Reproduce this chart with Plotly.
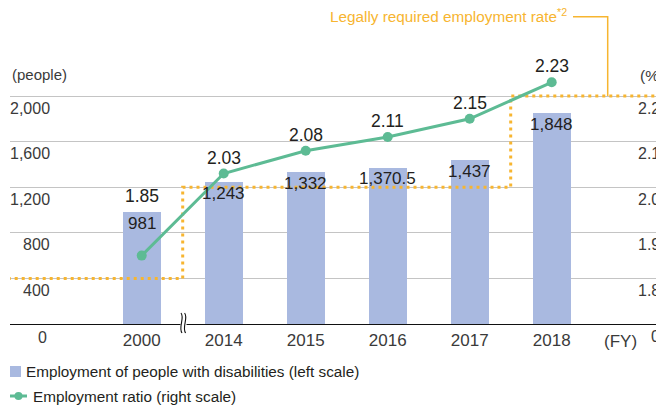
import plotly.graph_objects as go

# ---- data -------------------------------------------------------------
years = ["2000", "2014", "2015", "2016", "2017", "2018"]
employees = [981, 1243, 1332, 1370.5, 1437, 1848]           # people (left scale)
ratio = [1.85, 2.03, 2.08, 2.11, 2.15, 2.23]                # % (right scale)
required_rate = [1.8, 2.0, 2.0, 2.0, 2.0, 2.2]              # legal minimum, %
left_ticks = [0, 400, 800, 1200, 1600, 2000]
left_tick_text = ["0", "400", "800", "1,200", "1,600", "2,000"]
right_ticks = [1.7, 1.8, 1.9, 2.0, 2.1, 2.2]
right_tick_text = ["0", "1.8", "1.9", "2.0", "2.1", "2.2"]

# ---- layout geometry ---------------------------------------------------
W, H = 656, 405
ML, MR, MT, MB = 10, 0, 60, 81
PW, PH = W - ML - MR, H - MT - MB
Y1_MAX = 2000 * PH / 228.0              # 2,000 people sits 228 px above the base
Y2_MIN = 1.7
Y2_MAX = Y2_MIN + 0.5 * PH / 228.0      # both scales share the same gridlines
PITCH, X0 = 82.0, 141.7                 # category spacing / first centre (px)
X_MIN = (ML - X0) / PITCH
X_MAX = (W - MR - X0) / PITCH

FONT = "Liberation Sans, Arial, sans-serif"
TXT = "#231f20"
TICK = "#3a3a3a"
BAR = "#a9b9e0"
GREEN = "#5dbb94"
ORANGE = "#f7b530"


def px(x):
    return (x - ML) / PW


def py(y):
    return (H - MB - y) / PH


xs = list(range(len(years)))

fig = go.Figure()
fig.add_trace(go.Bar(
    x=xs, y=employees, width=38 / PITCH, marker=dict(color=BAR, line=dict(width=0)),
    showlegend=False, hoverinfo="skip"))
fig.add_trace(go.Scatter(
    x=[-3] + xs + [9], y=[required_rate[0]] + required_rate + [required_rate[-1]],
    yaxis="y2", mode="lines", line=dict(color=ORANGE, width=3, dash="3px,4px", shape="hvh"),
    showlegend=False, hoverinfo="skip"))
fig.add_trace(go.Scatter(
    x=xs, y=ratio, yaxis="y2", mode="lines+markers",
    line=dict(color=GREEN, width=3), marker=dict(color=GREEN, size=10),
    showlegend=False, hoverinfo="skip", cliponaxis=False))

ann = []
# bar values, just inside the top of each bar
for i, v in enumerate(employees):
    ann.append(dict(x=i, y=v, xref="x", yref="y", text=f"{v:,}", showarrow=False,
                    yanchor="middle", yshift=-11, font=dict(size=17, color=TXT, family=FONT)))
# ratio values above the marker (or above the bar when the bar is taller)
scale = (Y2_MAX - Y2_MIN) / Y1_MAX
for i, (r, v) in enumerate(zip(ratio, employees)):
    anchor = max(r, Y2_MIN + v * scale)
    ann.append(dict(x=i, y=anchor, xref="x", yref="y2", text=f"{r:.2f}", showarrow=False,
                    yanchor="middle", yshift=16, font=dict(size=17.5, color=TXT, family=FONT)))
# left scale labels (the zero sits lower, under the base line)
for v, t in zip(left_ticks, left_tick_text):
    if v == 0:
        ann.append(dict(x=px(42.5), y=v, xref="paper", yref="y", text=t, showarrow=False,
                        xanchor="center", yanchor="middle", yshift=-13,
                        font=dict(size=16, color=TICK, family=FONT)))
    else:
        ann.append(dict(x=px(52), y=v, xref="paper", yref="y", text=t, showarrow=False,
                        xanchor="right", yanchor="middle", yshift=-12,
                        font=dict(size=16, color=TICK, family=FONT)))
# right scale labels
for v, t in zip(right_ticks, right_tick_text):
    x_left = 649 if v == right_ticks[0] else 636
    ann.append(dict(x=px(x_left), y=v, xref="paper", yref="y2", text=t, showarrow=False,
                    xanchor="left", yanchor="middle", yshift=-12,
                    font=dict(size=16, color=TICK, family=FONT)))
# units
ann += [
    dict(x=px(10), y=py(75), xref="paper", yref="paper", text="(people)", showarrow=False,
         xanchor="left", yanchor="middle", font=dict(size=15, color=TICK, family=FONT)),
    dict(x=px(638), y=py(76), xref="paper", yref="paper", text="(%)", showarrow=False,
         xanchor="left", yanchor="middle", font=dict(size=15.5, color=TICK, family=FONT)),
    dict(x=px(620), y=py(341), xref="paper", yref="paper", text="(FY)", showarrow=False,
         xanchor="center", yanchor="middle", font=dict(size=17, color=TICK, family=FONT)),
    dict(x=px(569), y=py(16), xref="paper", yref="paper",
         text="Legally required employment rate<sup>*2</sup>", showarrow=False,
         xanchor="right", yanchor="middle", font=dict(size=15.3, color=ORANGE, family=FONT)),
    # legend
    dict(x=px(24), y=py(371.5), xref="paper", yref="paper",
         text="Employment of people with disabilities (left scale)", showarrow=False,
         xanchor="left", yanchor="middle", font=dict(size=15.3, color=TXT, family=FONT)),
    dict(x=px(31), y=py(396), xref="paper", yref="paper",
         text="Employment ratio (right scale)", showarrow=False,
         xanchor="left", yanchor="middle", font=dict(size=15.3, color=TXT, family=FONT)),
]

# connector from the 2.2% requirement line to its caption
y_req = (required_rate[-1] - Y2_MIN) / (Y2_MAX - Y2_MIN)
xc = (607.7 - X0) / PITCH
xh = (573 - X0) / PITCH
shapes = [
    dict(type="path", xref="x", yref="paper",
         path=f"M {xh},{py(16.7)} L {xc},{py(16.7)} L {xc},{y_req}",
         line=dict(color=ORANGE, width=1.5)),
    # legend symbols
    dict(type="rect", xref="paper", yref="paper", x0=px(10), x1=px(21), y0=py(377), y1=py(366),
         fillcolor=BAR, line=dict(width=0)),
    dict(type="line", xref="paper", yref="paper", x0=px(10), x1=px(27), y0=py(396), y1=py(396),
         line=dict(color=GREEN, width=3)),
    dict(type="circle", xref="paper", yref="paper", x0=px(14.5), x1=px(22.5), y0=py(400), y1=py(392),
         fillcolor=GREEN, line=dict(width=0)),
    # axis break mark between 2000 and 2014
    dict(type="rect", xref="paper", yref="paper", x0=px(180.5), x1=px(186.5), y0=py(326), y1=py(322),
         fillcolor="white", line=dict(width=0)),
]
for dx in (0, 3.6):
    x = 181 + dx
    shapes.append(dict(
        type="path", xref="paper", yref="paper",
        path=(f"M {px(x)},{py(313)} C {px(x + 4)},{py(318)} {px(x - 3)},{py(327)} "
              f"{px(x + 1)},{py(333)}"),
        line=dict(color="#111", width=1.1)))

fig.update_layout(
    width=W, height=H, margin=dict(l=ML, r=MR, t=MT, b=MB),
    paper_bgcolor="white", plot_bgcolor="white",
    font=dict(family=FONT, color=TXT),
    bargap=0, showlegend=False,
    xaxis=dict(range=[X_MIN, X_MAX], tickvals=xs, ticktext=years, showgrid=False,
               zeroline=False, showline=True, linecolor="#111", linewidth=1.3,
               ticks="", tickfont=dict(size=17, color=TICK, family=FONT), fixedrange=True),
    yaxis=dict(range=[0, Y1_MAX], tickvals=left_ticks, showticklabels=False,
               showgrid=True, gridcolor="#c4c4c4", gridwidth=1.2, zeroline=False, ticks="",
               fixedrange=True),
    yaxis2=dict(range=[Y2_MIN, Y2_MAX], overlaying="y", side="right", showgrid=False,
                showticklabels=False, zeroline=False, ticks="", fixedrange=True),
    annotations=ann, shapes=shapes,
)

fig.write_html("out.html", config={"displayModeBar": False})
